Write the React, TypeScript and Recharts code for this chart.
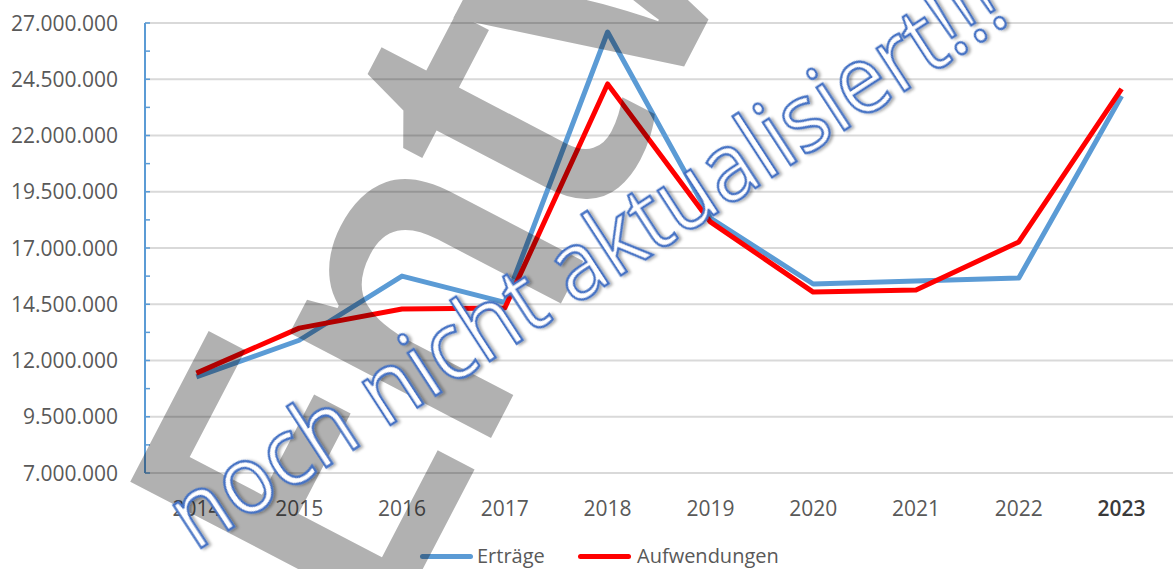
import { LineChart, Line, XAxis, YAxis, CartesianGrid, Legend } from "recharts";

const years = ['2014', '2015', '2016', '2017', '2018', '2019', '2020', '2021', '2022', '2023'];
const ertraege = [11270000, 12900000, 15750000, 14580000, 26600000, 18330000, 15400000, 15530000, 15670000, 23760000];
const aufwendungen = [11440000, 13440000, 14290000, 14330000, 24290000, 18160000, 15040000, 15130000, 17270000, 24070000];

const majorTicks = [7000000, 9500000, 12000000, 14500000, 17000000, 19500000, 22000000, 24500000, 27000000];
const minorTicks = [8250000, 10750000, 13250000, 15750000, 18250000, 20750000, 23250000, 25750000];

const data = years.map((year, i) => ({ year, ertraege: ertraege[i], aufwendungen: aufwendungen[i] }));
const allTicks = [...majorTicks, ...minorTicks].sort((a, b) => a - b);

const FONT = "'Open Sans', 'Noto Sans', sans-serif";
const TEXT = '#595959';
const BLUE = '#5b9bd5';
const RED = '#ff0000';

const fmt = (v: number) => String(v).replace(/\B(?=(\d{3})+(?!\d))/g, '.');

function YTick(props: any) {
  const { x, y, payload } = props;
  const major = majorTicks.includes(payload.value);
  return (
    <g>
      <line x1={x + 27} x2={x + 32} y1={y} y2={y} stroke={BLUE} strokeWidth={1.5} />
      {major && (
        <text x={x} y={y} dy="0.36em" textAnchor="end" fill={TEXT} fontSize={21} fontFamily={FONT}>
          {fmt(payload.value)}
        </text>
      )}
    </g>
  );
}

function XTick(props: any) {
  const { x, y, payload } = props;
  const last = payload.value === '2023';
  return (
    <text x={x} y={y} dy="0.71em" textAnchor="middle" fill={last ? '#3a3a3a' : TEXT} fontSize={21}
      fontWeight={last ? 600 : 400} fontFamily={FONT}>
      {payload.value}
    </text>
  );
}

function LegendContent() {
  const items = [
    { name: 'Erträge', color: BLUE, left: 420, textLeft: 477 },
    { name: 'Aufwendungen', color: RED, left: 578, textLeft: 637 },
  ];
  return (
    <div style={{ position: 'relative', height: 30, fontFamily: FONT }}>
      {items.map((it) => (
        <div key={it.name}>
          <div style={{ position: 'absolute', left: it.left, top: 13, width: 53, height: 5, borderRadius: 3, background: it.color }} />
          <div style={{ position: 'absolute', left: it.textLeft, top: 0, fontSize: 20, lineHeight: '30px', color: TEXT }}>{it.name}</div>
        </div>
      ))}
    </div>
  );
}

export default function App() {
  return (
    <div style={{ position: 'absolute', left: 0, top: 0, width: 1173, height: 569, background: '#fff', overflow: 'hidden' }}>
      <LineChart width={1173} height={569} data={data} margin={{ top: 23, right: 0, bottom: 0, left: 0 }}>
        <CartesianGrid vertical={false} horizontalValues={majorTicks} stroke="#d9d9d9" strokeWidth={2} />
        <XAxis dataKey="year" height={96} axisLine={false} tickLine={false} tickMargin={22} interval={0}
          padding={{ left: 51.4, right: 51.4 }} tick={<XTick />} />
        <YAxis width={145} domain={[7000000, 27000000]} ticks={allTicks} interval={0} tickSize={0} tickMargin={27}
          axisLine={{ stroke: BLUE, strokeWidth: 2 }} tickLine={false} tick={<YTick />} />
        <Legend layout="horizontal" verticalAlign="middle" align="center" wrapperStyle={{ top: 541, left: 0, width: 1173 }}
          content={<LegendContent />} />
        <Line type="linear" dataKey="ertraege" name="Erträge" stroke={BLUE} strokeWidth={5} dot={false}
          strokeLinejoin="round" isAnimationActive={false} />
        <Line type="linear" dataKey="aufwendungen" name="Aufwendungen" stroke={RED} strokeWidth={5} dot={false}
          strokeLinejoin="round" isAnimationActive={false} />
      </LineChart>
      <svg width={1173} height={569} style={{ position: 'absolute', left: 0, top: 0, pointerEvents: 'none' }}>
        <defs>
          <filter id="shadow" x="-10%" y="-10%" width="120%" height="120%">
            <feDropShadow dx="2" dy="2" stdDeviation="1.5" floodColor="#000" floodOpacity="0.35" />
          </filter>
        </defs>
        <g opacity={0.3}>
          <text x={378} y={655} transform="rotate(-62.5 378 655)" fontSize={420} fontWeight={600} letterSpacing={-24}
            fontFamily={FONT} fill="#000">
            Entwurf
          </text>
        </g>
        <text x={195} y={552} transform="rotate(-33 195 552)" fontSize={96} fontFamily={FONT} fill="#fff"
          stroke="#4472c4" strokeWidth={2.5} textLength={975} lengthAdjust="spacingAndGlyphs" filter="url(#shadow)">
          noch nicht aktualisiert!!!
        </text>
      </svg>
    </div>
  );
}
